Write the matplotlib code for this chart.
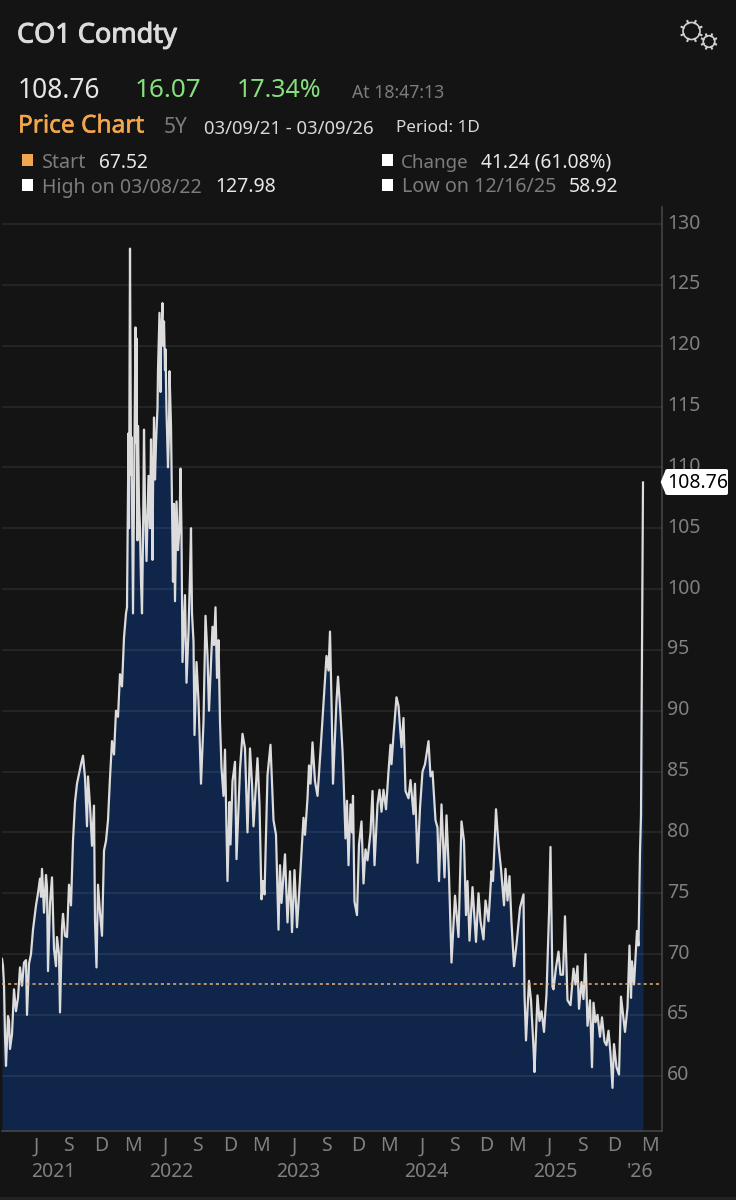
import numpy as np
import matplotlib
matplotlib.use("Agg")
import matplotlib.pyplot as plt
from matplotlib.patches import Polygon, Rectangle, Circle, FancyBboxPatch
from matplotlib.transforms import ScaledTranslation
import matplotlib.patheffects as pe

plt.rcParams['font.family'] = ['Noto Sans', 'DejaVu Sans']

# x is the trading session counted from 03/09/21, y is the CO1 price
s_2021 = [0, 2, 4, 6, 8, 12, 14, 16, 20, 24, 28, 32, 36, 40, 44, 48, 50, 54, 58, 62, 68, 72, 76, 78, 80, 84,
          88, 90, 92, 96, 100, 104, 108, 110, 114, 116, 120, 122, 126, 130, 134, 138, 142, 146, 150, 154,
          158, 162, 166, 170, 172, 176, 180, 184, 186, 189, 192, 196, 200, 204]
p_2021 = [69.6, 69.0, 67.5, 63.3, 60.8, 64.9, 64.5, 62.2, 63.4, 67.1, 65.3, 66.4, 68.9, 67.4, 69.3, 69.5, 65.0,
          69.2, 70.0, 72.0, 74.0, 75.0, 76.2, 74.7, 77.0, 73.4, 76.5, 75.5, 68.6, 74.2, 76.3, 70.4, 69.0, 71.4,
          70.0, 65.2, 72.2, 73.3, 71.5, 71.4, 75.7, 74.0, 79.3, 82.5, 84.0, 84.8, 85.6, 86.3, 84.5, 80.5, 84.6,
          82.2, 78.9, 82.2, 72.7, 68.9, 75.7, 73.4, 71.5, 78.5]
s_2022 = [208, 212, 216, 220, 224, 228, 232, 236, 240, 244, 248, 250, 253, 254, 256, 258, 259, 262, 264, 266, 267,
          268, 269, 271, 272, 274, 276, 278, 280, 282, 284, 286, 289, 291, 293, 296, 298, 301, 302, 304, 306, 308,
          311, 312, 315, 317, 318, 321, 322, 324, 326, 327, 329, 332, 334, 335, 338, 340, 342, 344, 346, 349, 352,
          355, 357, 359, 361, 366, 369, 373, 376, 378, 380, 383, 385, 389, 393, 398, 403, 407, 411, 414, 417, 421,
          424, 427, 430, 433, 436, 439, 443, 446, 451, 455]
p_2022 = [79.3, 81.0, 84.5, 87.5, 86.4, 90.0, 89.5, 93.0, 92.0, 96.0, 98.0, 98.5, 112.8, 105.0, 127.98, 109.4, 112.5,
          98.0, 107.0, 115.0, 121.5, 112.0, 120.6, 104.0, 113.4, 107.0, 105.0, 100.6, 98.0, 104.0, 113.1, 107.0, 102.3,
          106.0, 109.3, 105.0, 112.3, 102.4, 108.0, 114.1, 109.0, 112.0, 114.9, 118.0, 122.7, 116.2, 120.0, 123.5,
          120.0, 122.0, 118.0, 119.7, 114.6, 110.0, 113.0, 117.9, 113.4, 107.2, 100.6, 107.0, 99.0, 107.2, 103.2,
          105.0, 109.9, 104.5, 94.0, 99.5, 92.3, 96.5, 101.2, 105.0, 98.0, 95.7, 88.0, 94.0, 90.8, 84.0, 89.1, 97.8,
          94.5, 90.0, 93.0, 96.9, 95.4, 98.5, 92.7, 95.8, 89.1, 85.3, 83.0, 86.8, 76.0, 82.5]
s_2023 = [457, 461, 466, 469, 472, 476, 481, 486, 491, 496, 500, 503, 511, 515, 519, 522, 525, 527, 531, 537, 543, 548,
          553, 556, 559, 566, 571, 576, 580, 585, 590, 596, 599, 603, 606, 611, 614, 617, 621, 626, 631, 637, 643,
          649, 653, 656, 659, 662, 666, 669, 672, 676, 681, 683, 687, 690, 693, 697, 700, 702, 705, 710]
p_2023 = [79.0, 84.2, 85.8, 77.8, 81.0, 85.2, 88.1, 86.9, 80.0, 86.9, 84.0, 80.5, 86.1, 82.3, 74.5, 76.0, 74.9, 78.2,
          84.7, 87.2, 81.0, 79.8, 72.0, 77.3, 74.2, 78.2, 72.6, 76.8, 71.8, 76.9, 72.2, 76.2, 78.4, 81.2, 79.8, 82.8,
          85.5, 84.0, 87.4, 84.2, 83.0, 86.7, 90.6, 94.5, 93.3, 96.5, 90.8, 84.0, 88.0, 90.8, 92.8, 90.4, 86.7, 84.6,
          79.5, 82.6, 77.3, 82.3, 80.0, 83.0, 74.3, 73.2]
s_2024 = [714, 719, 723, 727, 731, 737, 741, 745, 751, 755, 759, 763, 768, 773, 777, 779, 783, 789, 793, 799, 803, 807,
          813, 817, 823, 826, 831, 836, 841, 846, 853, 857, 861, 867, 871, 874, 879, 885, 889, 894, 899, 906, 913,
          919, 924, 928, 931, 935, 941, 948, 953, 957, 963]
p_2024 = [79.0, 80.9, 75.8, 78.6, 77.7, 80.0, 83.4, 77.3, 82.3, 83.5, 81.7, 83.5, 81.9, 85.0, 87.2, 85.6, 88.0, 91.1,
          90.4, 87.0, 89.4, 83.4, 82.8, 84.3, 81.5, 84.0, 77.5, 82.0, 85.0, 85.6, 87.5, 84.6, 85.0, 81.0, 80.4, 76.0,
          82.3, 76.3, 81.4, 76.5, 69.3, 74.8, 71.4, 80.9, 79.3, 73.2, 76.0, 71.1, 75.5, 71.0, 75.0, 72.7, 71.2]
s_2025 = [967, 973, 979, 982, 988, 993, 998, 1004, 1007, 1011, 1015, 1019, 1024, 1029, 1036, 1043, 1045, 1048, 1051,
          1054, 1058, 1063, 1065, 1071, 1075, 1079, 1084, 1089, 1094, 1097, 1101, 1103, 1108, 1113, 1117, 1122, 1126,
          1131, 1137, 1143, 1147, 1151, 1154, 1159, 1163, 1167, 1171, 1176, 1180, 1183, 1187, 1191, 1196, 1200, 1205,
          1209, 1213, 1217, 1221, 1224, 1229, 1234, 1238]
p_2025 = [74.4, 72.7, 76.8, 76.0, 81.9, 79.0, 77.0, 74.0, 77.0, 74.4, 76.4, 72.6, 69.0, 70.8, 73.8, 74.9, 66.7, 62.9,
          65.3, 67.8, 66.2, 62.3, 60.3, 66.6, 64.5, 65.3, 63.6, 66.7, 73.3, 78.8, 67.3, 67.1, 68.9, 70.2, 68.3, 68.3,
          73.1, 66.2, 65.8, 68.8, 67.5, 69.0, 65.5, 67.7, 66.3, 70.0, 64.1, 66.2, 60.7, 66.0, 64.4, 65.0, 63.2, 64.8,
          62.8, 62.5, 63.7, 61.8, 59.0, 62.6, 60.7, 60.1, 66.5]
s_2026 = [1246, 1251, 1255, 1258, 1260, 1264, 1270, 1273, 1276, 1278, 1282]
p_2026 = [63.6, 65.6, 70.7, 66.4, 69.4, 67.5, 71.9, 70.7, 78.4, 81.4, 108.76]

start_price = 67.52
y_ticks = list(range(60, 131, 5))
month_pos = [68, 132, 198, 262, 326, 390, 456, 518, 584, 648, 712, 774, 840, 904, 968, 1030, 1094, 1160, 1224, 1296]
month_lab = ['J', 'S', 'D', 'M', 'J', 'S', 'D', 'M', 'J', 'S', 'D', 'M', 'J', 'S', 'D', 'M', 'J', 'S', 'D', 'M']
year_pos = [102, 338, 592, 848, 1106, 1276]
year_lab = ['2021', '2022', '2023', '2024', '2025', "'26"]

sessions = s_2021 + s_2022 + s_2023 + s_2024 + s_2025 + s_2026
prices = p_2021 + p_2022 + p_2023 + p_2024 + p_2025 + p_2026

BG = '#141414'
TICK = '#808080'
FILL = '#10254a'
ORANGE = '#f2a64d'
GREEN = '#86e07f'
SOFT = '#7c7c7c'
WHITE = '#e8e8e8'

fig = plt.figure(figsize=(7.36, 12), dpi=100, facecolor=BG)
ax = fig.add_axes([2 / 736, 1 - 1130.7 / 1200, 659.7 / 736, (1130.7 - 207) / 1200], facecolor=BG)

ax.fill_between(sessions, prices, 50, color=FILL, lw=0, zorder=1)
ax.plot(sessions, prices, color='#dcdcdc', lw=1.6, solid_joinstyle='round', zorder=3)
ax.axhline(start_price, color='#e8b27a', lw=1.1, dashes=(2.0, 2.0), zorder=4)

ax.set_xlim(0, 1319.4)
ax.set_ylim(55.48, 131.4)
ax.set_yticks(y_ticks)
ax.yaxis.tick_right()
ax.set_xticks(month_pos)
ax.set_xticklabels(month_lab)
ax.grid(axis='y', color='white', alpha=0.09, lw=1.1, zorder=2)
ax.set_axisbelow(False)
ax.tick_params(axis='y', length=0, pad=4, labelsize=14, labelcolor=TICK)
ax.tick_params(axis='x', length=0, pad=4, labelsize=14, labelcolor=TICK)
up = ScaledTranslation(0, 3 / 100, fig.dpi_scale_trans)
for t in ax.get_yticklabels():
    t.set_transform(t.get_transform() + up)
for side in ['top', 'left']:
    ax.spines[side].set_visible(False)
for side in ['right', 'bottom']:
    ax.spines[side].set_color('#444444')
    ax.spines[side].set_linewidth(1.2)

for pos, lab in zip(year_pos, year_lab):
    ax.annotate(lab, (pos, 0), xycoords=('data', 'axes fraction'), xytext=(0, -41.5 * 0.72),
                textcoords='offset points', ha='center', va='center', fontsize=14, color=TICK, annotation_clip=False)

# header, tag and icon sit on a full figure overlay in pixel units
top = fig.add_axes([0, 0, 1, 1], facecolor='none')
top.set_xlim(0, 736)
top.set_ylim(1200, 0)
top.axis('off')


def txt(x, y, s, color=WHITE, size=13, **kw):
    return top.text(x, y + 2.5, s, color=color, fontsize=size, va='center', ha='left', **kw)


t = txt(17, 33, 'CO1 Comdty', '#dcdcdc', 19.5)
t.set_path_effects([pe.withStroke(linewidth=0.7, foreground='#dcdcdc')])
txt(18, 88, '108.76', '#e6e6e6', 19)
txt(135, 88, '16.07', GREEN, 18.8)
txt(237, 88, '17.34%', GREEN, 18)
txt(352, 90, 'At 18:47:13', SOFT, 12.7)
t = txt(18, 124, 'Price Chart', ORANGE, 17.6)
t.set_path_effects([pe.withStroke(linewidth=0.4, foreground=ORANGE)])
txt(164, 125, '5Y', SOFT, 15)
txt(204, 126, '03/09/21 - 03/09/26', '#d8d8d8', 13.3)
txt(396, 126, 'Period: 1D', '#d8d8d8', 12.3)

top.add_patch(Rectangle((22, 154), 11, 12, color=ORANGE, lw=0))
txt(42, 160, 'Start', SOFT, 14.2)
txt(99, 160, '67.52', WHITE, 13.8)
top.add_patch(Rectangle((382, 154), 11, 12, color='white', lw=0))
txt(401, 160, 'Change', SOFT, 13.5)
txt(481, 160, '41.24 (61.08%)', WHITE, 13.8)
top.add_patch(Rectangle((22, 179), 11, 12, color='white', lw=0))
txt(42, 185, 'High on 03/08/22', SOFT, 14.1)
txt(215, 185, '127.98', WHITE, 14)
top.add_patch(Rectangle((382, 179), 11, 12, color='white', lw=0))
txt(402, 185, 'Low on 12/16/25', SOFT, 14.2)
txt(569, 185, '58.92', WHITE, 14)

# settings icon
for cx, cy, r, n, tooth in [(691.5, 31, 8.5, 8, 2.2), (709, 41.5, 5.8, 8, 1.8)]:
    top.add_patch(Circle((cx, cy), r, fill=False, ec='#d0d0d0', lw=1.2))
    for a in np.linspace(0, 2 * np.pi, n, endpoint=False) + np.pi / 8:
        top.plot([cx + r * np.cos(a), cx + (r + tooth) * np.cos(a)],
                 [cy + r * np.sin(a), cy + (r + tooth) * np.sin(a)], color='#d0d0d0', lw=1.5)

# last price tag
tag_y = 482
top.add_patch(FancyBboxPatch((665.5, 469), 62.5, 26, boxstyle='round,pad=0,rounding_size=2', fc='white', ec='none', zorder=6))
top.add_patch(Polygon([(660.7, tag_y), (666, 469), (666, 495)], fc='white', ec='none', zorder=6))
top.text(697.5, tag_y + 0.5, f'{prices[-1]:.2f}', color='black', fontsize=14, ha='center', va='center', zorder=7)

# lighter strip at the very bottom of the screenshot
top.add_patch(Rectangle((0, 1197), 736, 3, color='#222222', lw=0))

fig.savefig('out.png', dpi=100, facecolor=BG)
